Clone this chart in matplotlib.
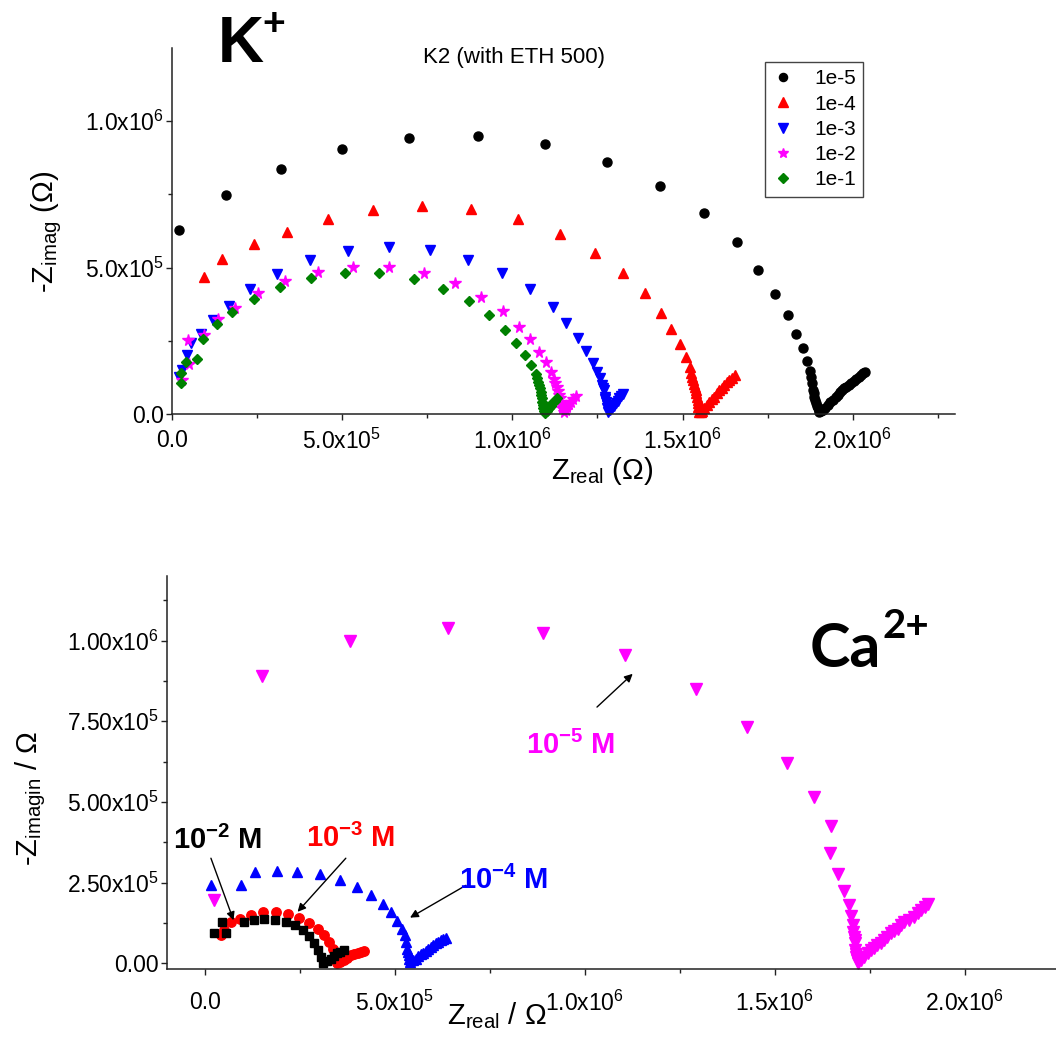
import matplotlib.pyplot as plt

plt.rcParams['font.family'] = ['Liberation Sans', 'DejaVu Sans']
plt.rcParams['mathtext.default'] = 'regular'

# ---- K+ (top panel), values in 1e6 ohm ----
k5_x = [0.022, 0.159, 0.321, 0.500, 0.697, 0.900, 1.095, 1.277, 1.434, 1.562, 1.659, 1.721, 1.771, 1.810,
        1.834, 1.853, 1.866, 1.874, 1.877, 1.880, 1.883, 1.885, 1.887, 1.890, 1.892, 1.895, 1.897, 1.900,
        1.902, 1.906, 1.912, 1.919, 1.926, 1.934, 1.941, 1.949, 1.956, 1.962, 1.968, 1.974, 1.980, 1.988,
        1.995, 2.003, 2.010, 2.017, 2.024, 2.030, 2.036]
k5_y = [0.630, 0.747, 0.837, 0.905, 0.944, 0.950, 0.922, 0.861, 0.779, 0.686, 0.587, 0.492, 0.410, 0.337,
        0.274, 0.224, 0.181, 0.148, 0.127, 0.105, 0.082, 0.070, 0.059, 0.047, 0.036, 0.027, 0.019, 0.012,
        0.008, 0.009, 0.014, 0.022, 0.031, 0.040, 0.048, 0.057, 0.065, 0.074, 0.082, 0.088, 0.093, 0.099,
        0.105, 0.112, 0.118, 0.126, 0.133, 0.139, 0.144]

k4_x = [0.096, 0.148, 0.243, 0.339, 0.460, 0.591, 0.735, 0.878, 1.016, 1.140, 1.243, 1.326, 1.391, 1.438,
        1.466, 1.491, 1.509, 1.521, 1.526, 1.529, 1.531, 1.534, 1.536, 1.538, 1.540, 1.542, 1.544, 1.545,
        1.546, 1.549, 1.553, 1.558, 1.564, 1.571, 1.578, 1.585, 1.593, 1.600, 1.608, 1.615, 1.622, 1.630,
        1.637, 1.645, 1.654]
k4_y = [0.468, 0.529, 0.581, 0.622, 0.666, 0.697, 0.710, 0.699, 0.666, 0.614, 0.549, 0.480, 0.412, 0.346,
        0.289, 0.238, 0.196, 0.161, 0.139, 0.127, 0.116, 0.104, 0.093, 0.082, 0.071, 0.059, 0.048, 0.036,
        0.025, 0.008, 0.006, 0.010, 0.019, 0.030, 0.042, 0.050, 0.059, 0.071, 0.082, 0.090, 0.099, 0.108,
        0.116, 0.124, 0.133]

k3_x = [0.020, 0.030, 0.046, 0.057, 0.085, 0.121, 0.169, 0.230, 0.310, 0.407, 0.519, 0.638, 0.758, 0.871,
        0.971, 1.053, 1.119, 1.158, 1.194, 1.216, 1.237, 1.250, 1.258, 1.262, 1.265, 1.268, 1.271, 1.273,
        1.275, 1.277, 1.279, 1.282, 1.288, 1.294, 1.299, 1.304, 1.309, 1.314, 1.319, 1.324]
k3_y = [0.127, 0.150, 0.201, 0.241, 0.272, 0.321, 0.370, 0.426, 0.478, 0.526, 0.556, 0.570, 0.559, 0.526,
        0.482, 0.427, 0.366, 0.311, 0.259, 0.215, 0.175, 0.144, 0.122, 0.099, 0.090, 0.082, 0.059, 0.050,
        0.042, 0.030, 0.019, 0.008, 0.012, 0.019, 0.028, 0.036, 0.045, 0.054, 0.060, 0.067]

k2_x = [0.029, 0.052, 0.047, 0.096, 0.135, 0.186, 0.252, 0.334, 0.430, 0.532, 0.638, 0.740, 0.831, 0.909,
        0.972, 1.019, 1.052, 1.078, 1.100, 1.113, 1.122, 1.126, 1.130, 1.134, 1.137, 1.140, 1.142, 1.145,
        1.147, 1.152, 1.157, 1.162, 1.166, 1.171, 1.178, 1.186]
k2_y = [0.116, 0.170, 0.253, 0.270, 0.324, 0.363, 0.412, 0.454, 0.486, 0.503, 0.501, 0.480, 0.446, 0.400,
        0.352, 0.298, 0.255, 0.212, 0.176, 0.144, 0.118, 0.105, 0.093, 0.079, 0.065, 0.053, 0.042, 0.030,
        0.019, 0.008, 0.015, 0.025, 0.034, 0.042, 0.051, 0.061]

k1_x = [0.026, 0.026, 0.042, 0.074, 0.093, 0.132, 0.177, 0.243, 0.319, 0.410, 0.508, 0.609, 0.710, 0.798,
        0.873, 0.933, 0.980, 1.011, 1.036, 1.054, 1.069, 1.072, 1.075, 1.078, 1.081, 1.083, 1.085, 1.087,
        1.088, 1.090, 1.091, 1.093, 1.095, 1.101, 1.108, 1.113, 1.118, 1.124, 1.130]
k1_y = [0.105, 0.141, 0.176, 0.188, 0.256, 0.306, 0.347, 0.391, 0.433, 0.465, 0.481, 0.481, 0.460, 0.427,
        0.385, 0.338, 0.288, 0.243, 0.201, 0.166, 0.135, 0.122, 0.110, 0.099, 0.088, 0.076, 0.065, 0.053,
        0.042, 0.030, 0.019, 0.011, 0.005, 0.011, 0.019, 0.027, 0.036, 0.045, 0.054]

k_labels = ['1e-5', '1e-4', '1e-3', '1e-2', '1e-1']

# ---- Ca2+ (bottom panel), values in 1e6 ohm ----
ca5_x = [0.023, 0.150, 0.381, 0.639, 0.890, 1.105, 1.292, 1.427, 1.532, 1.602, 1.647, 1.644, 1.666, 1.682,
         1.694, 1.701, 1.705, 1.707, 1.709, 1.710, 1.711, 1.711, 1.713, 1.714, 1.716, 1.718, 1.726, 1.735,
         1.744, 1.753, 1.762, 1.770, 1.779, 1.788, 1.796, 1.805, 1.814, 1.823, 1.831, 1.840, 1.854, 1.867,
         1.876, 1.884, 1.894, 1.904]
ca5_y = [0.196, 0.889, 0.998, 1.038, 1.023, 0.954, 0.851, 0.732, 0.621, 0.517, 0.425, 0.342, 0.276, 0.224,
         0.180, 0.146, 0.119, 0.098, 0.082, 0.072, 0.062, 0.041, 0.030, 0.020, 0.010, 0.000, 0.010, 0.020,
         0.031, 0.041, 0.049, 0.057, 0.065, 0.072, 0.083, 0.093, 0.100, 0.108, 0.118, 0.129, 0.136, 0.144,
         0.155, 0.165, 0.174, 0.183]

ca4_x = [0.016, 0.094, 0.133, 0.191, 0.242, 0.303, 0.355, 0.400, 0.437, 0.468, 0.491, 0.507, 0.518, 0.526,
         0.530, 0.533, 0.535, 0.536, 0.538, 0.540, 0.548, 0.555, 0.562, 0.568, 0.575, 0.582, 0.588, 0.595,
         0.601, 0.608, 0.614, 0.621, 0.628, 0.634]
ca4_y = [0.242, 0.242, 0.283, 0.287, 0.283, 0.276, 0.260, 0.237, 0.211, 0.183, 0.158, 0.131, 0.108, 0.088,
         0.067, 0.046, 0.036, 0.026, 0.015, 0.005, 0.010, 0.015, 0.022, 0.029, 0.034, 0.039, 0.045, 0.051,
         0.057, 0.062, 0.067, 0.072, 0.076, 0.080]

ca3_x = [0.042, 0.050, 0.068, 0.093, 0.121, 0.154, 0.187, 0.219, 0.249, 0.275, 0.297, 0.314, 0.327, 0.336,
         0.342, 0.347, 0.357, 0.367, 0.375, 0.384, 0.393, 0.402, 0.410, 0.419]
ca3_y = [0.088, 0.105, 0.129, 0.137, 0.149, 0.158, 0.158, 0.152, 0.141, 0.126, 0.108, 0.088, 0.067, 0.046,
         0.020, 0.000, 0.005, 0.010, 0.018, 0.026, 0.030, 0.034, 0.036, 0.038]

ca2_x = [0.025, 0.045, 0.055, 0.103, 0.130, 0.156, 0.185, 0.213, 0.237, 0.257, 0.275, 0.288, 0.299, 0.307,
         0.312, 0.322, 0.332, 0.340, 0.349, 0.357, 0.365]
ca2_y = [0.093, 0.129, 0.095, 0.129, 0.134, 0.137, 0.136, 0.129, 0.118, 0.103, 0.084, 0.062, 0.041, 0.020,
         0.000, 0.008, 0.015, 0.023, 0.031, 0.036, 0.041]

k_ticks_x = [0.0, 0.5, 1.0, 1.5, 2.0]
k_ticklabels_x = ['0.0', '5.0x10$^{5}$', '1.0x10$^{6}$', '1.5x10$^{6}$', '2.0x10$^{6}$']
k_ticks_y = [0.0, 0.5, 1.0]
k_ticklabels_y = ['0.0', '5.0x10$^{5}$', '1.0x10$^{6}$']
ca_ticks_x = [0.0, 0.5, 1.0, 1.5, 2.0]
ca_ticklabels_x = ['0.0', '5.0x10$^{5}$', '1.0x10$^{6}$', '1.5x10$^{6}$', '2.0x10$^{6}$']
ca_ticks_y = [0.0, 0.25, 0.5, 0.75, 1.0]
ca_ticklabels_y = ['0.00', '2.50x10$^{5}$', '5.00x10$^{5}$', '7.50x10$^{5}$', '1.00x10$^{6}$']

fig = plt.figure(figsize=(10.56, 10.47), dpi=100)


def style_axes(ax, xpad, ypad):
    for s in ['top', 'right']:
        ax.spines[s].set_visible(False)
    for s in ['left', 'bottom']:
        ax.spines[s].set_linewidth(1.1)
        ax.spines[s].set_color('#222222')
    ax.tick_params(which='both', direction='out', width=1.0, color='#222222', labelsize=16.5)
    ax.tick_params(which='major', length=4.5)
    ax.tick_params(which='minor', length=2.8)
    ax.tick_params(axis='x', pad=xpad)
    ax.tick_params(axis='y', pad=ypad)


# top panel
ax1 = fig.add_axes([0.1626, 0.6046, 0.7418, 0.3496])
ax1.plot(k5_x, k5_y, 'o', color='black', ms=6.5, ls='none', clip_on=False, label=k_labels[0])
ax1.plot(k4_x, k4_y, '^', color='red', ms=7.5, ls='none', clip_on=False, label=k_labels[1])
ax1.plot(k3_x, k3_y, 'v', color='blue', ms=7.5, ls='none', clip_on=False, label=k_labels[2])
ax1.plot(k2_x, k2_y, '*', color='magenta', ms=8.5, ls='none', clip_on=False, label=k_labels[3])
ax1.plot(k1_x, k1_y, 'D', color='green', ms=5.6, ls='none', clip_on=False, label=k_labels[4])
ax1.set_xlim(0, 2.3)
ax1.set_ylim(0, 1.25)
ax1.set_xticks(k_ticks_x, k_ticklabels_x)
ax1.set_yticks(k_ticks_y, k_ticklabels_y)
ax1.set_xticks([0.25, 0.75, 1.25, 1.75, 2.25], minor=True)
ax1.set_yticks([0.25, 0.75], minor=True)
style_axes(ax1, 6, 1)

leg = ax1.legend(loc='upper left', bbox_to_anchor=(765 / 1056, 1 - 62 / 1047),
                 bbox_transform=fig.transFigure, fontsize=15, frameon=True, fancybox=False,
                 edgecolor='#444444', framealpha=1, labelspacing=0.3, handlelength=1.0,
                 handletextpad=1.0, borderpad=0.35, borderaxespad=0, markerscale=0.9)
leg.get_frame().set_linewidth(1.0)

fig.text(514 / 1056, 1 - 58 / 1047, 'K2 (with ETH 500)', ha='center', va='center', fontsize=16)
fig.text(218 / 1056, 1 - 62 / 1047, 'K', ha='left', va='baseline', fontsize=46, fontweight='bold')
fig.text(262 / 1056, 1 - 25 / 1047, '+', ha='left', va='center', fontsize=28, fontweight='bold')
fig.text(47 / 1056, 1 - 232 / 1047, '-Z$_{imag}$ (Ω)', rotation=90, ha='center', va='center', fontsize=21)
fig.text(602 / 1056, 1 - 479 / 1047, 'Z$_{real}$ (Ω)', ha='center', va='baseline', fontsize=21)

# bottom panel
ax2 = fig.add_axes([0.158, 0.0742, 0.842, 0.3757])
ax2.plot(ca5_x, ca5_y, 'v', color='magenta', ms=8.5, ls='none', clip_on=False)
ax2.plot(ca4_x, ca4_y, '^', color='blue', ms=7.5, ls='none', clip_on=False)
ax2.plot(ca3_x, ca3_y, 'o', color='red', ms=6.8, ls='none', clip_on=False)
ax2.plot(ca2_x, ca2_y, 's', color='black', ms=6.2, ls='none', clip_on=False)
ax2.set_xlim(-0.1, 2.24)
ax2.set_ylim(-0.018, 1.2)
ax2.set_xticks(ca_ticks_x, ca_ticklabels_x)
ax2.set_yticks(ca_ticks_y, ca_ticklabels_y)
ax2.set_xticks([0.25, 0.75, 1.25, 1.75], minor=True)
ax2.set_yticks([0.125, 0.375, 0.625, 0.875, 1.125], minor=True)
style_axes(ax2, 11, 1.5)

arrow = dict(arrowstyle='-|>', color='black', lw=1.0, mutation_scale=12, shrinkA=0, shrinkB=0)
ax2.annotate('', xy=(0.0755, 0.134), xytext=(0.016, 0.326), arrowprops=arrow)
ax2.annotate('', xy=(0.244, 0.160), xytext=(0.371, 0.326), arrowprops=arrow)
ax2.annotate('', xy=(0.540, 0.142), xytext=(0.687, 0.242), arrowprops=arrow)
ax2.annotate('', xy=(1.126, 0.897), xytext=(1.032, 0.794), arrowprops=arrow)
ax2.text(0.034, 0.382, '10$^{-2}$ M', color='black', ha='center', va='center', fontsize=21, fontweight='bold')
ax2.text(0.384, 0.388, '10$^{-3}$ M', color='red', ha='center', va='center', fontsize=21, fontweight='bold')
ax2.text(0.787, 0.258, '10$^{-4}$ M', color='blue', ha='center', va='center', fontsize=21, fontweight='bold')
ax2.text(0.963, 0.676, '10$^{-5}$ M', color='magenta', ha='center', va='center', fontsize=21, fontweight='bold')

fig.text(810 / 1056, 1 - 667 / 1047, 'Ca', ha='left', va='baseline', fontsize=44, fontweight='bold',
         family=['Lato', 'DejaVu Sans'])
fig.text(883 / 1056, 1 - 627 / 1047, '2+', ha='left', va='center', fontsize=29, fontweight='bold',
         family=['Lato', 'DejaVu Sans'])
fig.text(31 / 1056, 1 - 798 / 1047, '-Z$_{imagin}$ / Ω', rotation=90, ha='center', va='center', fontsize=21)
fig.text(497 / 1056, 1 - 1024 / 1047, 'Z$_{real}$ / Ω', ha='center', va='baseline', fontsize=21)

fig.savefig('out.png', dpi=100)
